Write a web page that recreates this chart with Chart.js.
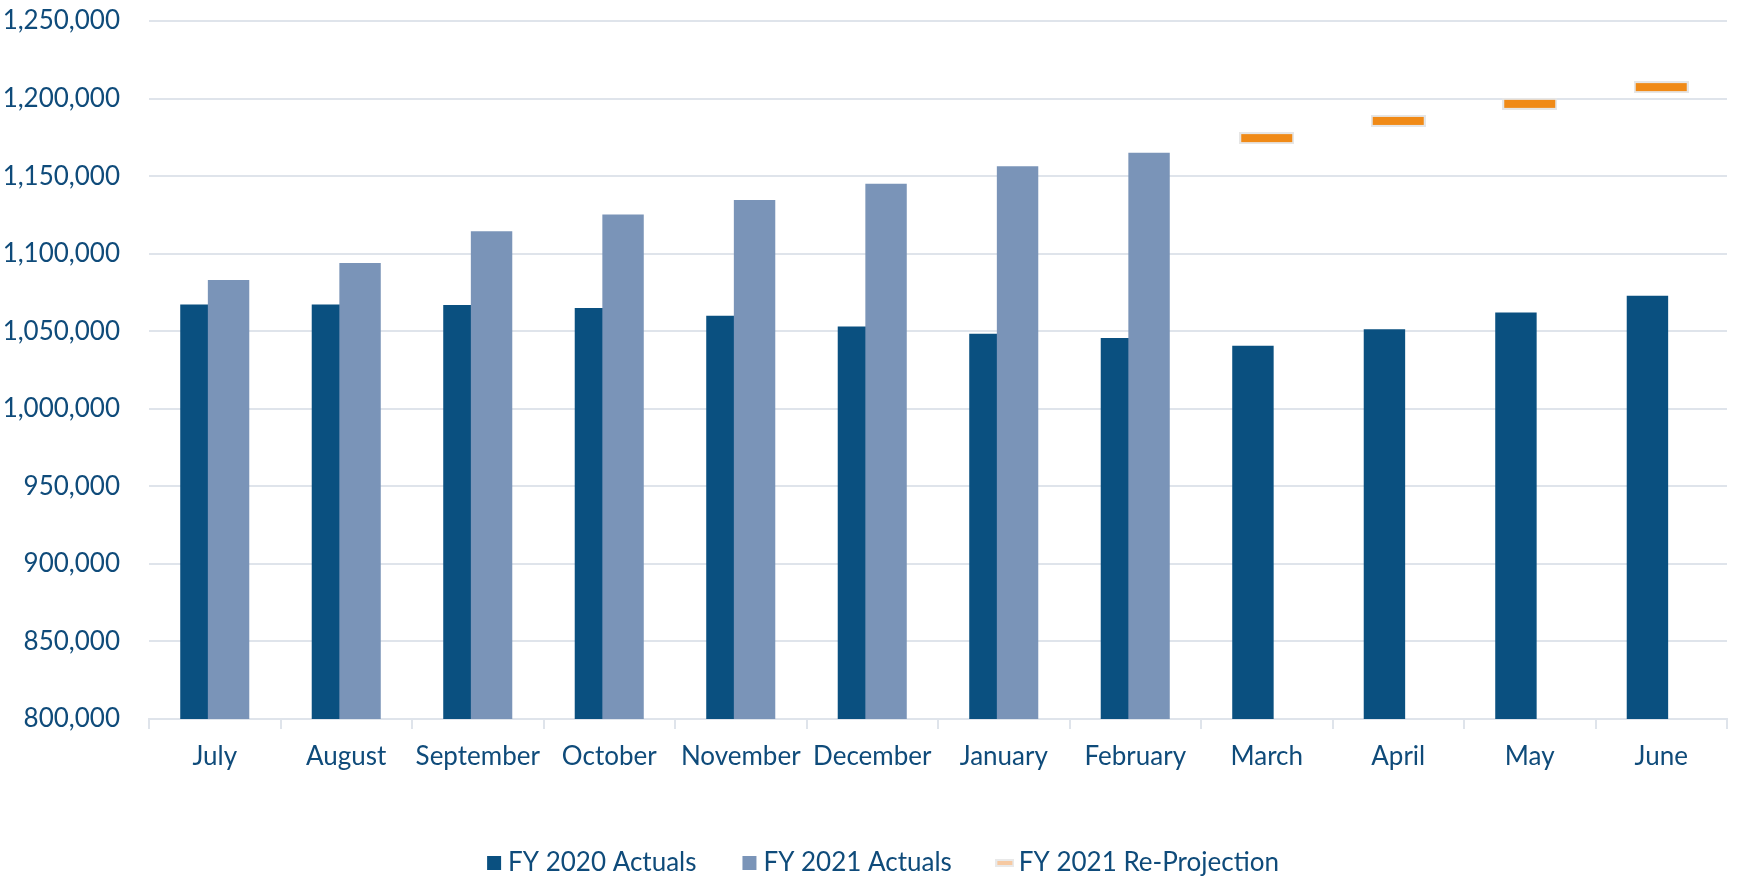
<!DOCTYPE html>
<html lang="en">
<head>
<meta charset="UTF-8">
<title>Monthly Totals: FY 2020 vs FY 2021</title>
<script src="https://cdn.jsdelivr.net/npm/chart.js"></script>
<style>
  html, body { margin: 0; padding: 0; background: #ffffff; }
  canvas { display: block; }
</style>
</head>
<body>
<canvas id="monthlyChart" width="1748" height="879"></canvas>
<script>
// Months of the fiscal year (July - June)
const months = ['July', 'August', 'September', 'October', 'November', 'December',
                'January', 'February', 'March', 'April', 'May', 'June'];

const fy2020Actuals = [1067300, 1067300, 1066900, 1064900, 1060000, 1053000,
                       1048300, 1045700, 1040600, 1051300, 1062000, 1072800];

const fy2021Actuals = [1083100, 1094000, 1114400, 1125300, 1134600, 1145100,
                       1156400, 1165100, null, null, null, null];

const fy2021Reprojection = [null, null, null, null, null, null,
                            null, null, 1174500, 1185600, 1196600, 1207400];

const yMin = 800000;
const yMax = 1250000;
const yStep = 50000;

const textColor = '#0F4B7A';
const gridColor = '#DFE4EB';

Chart.defaults.font.family = 'Lato, "Open Sans", sans-serif';
Chart.defaults.font.size = 26;
Chart.defaults.color = textColor;

// flat orange dash with a soft grey rim, used as the re-projection marker
function makeDash(w, h, inset, rim, fill) {
  const c = document.createElement('canvas');
  c.width = w;
  c.height = h;
  const g = c.getContext('2d');
  g.fillStyle = rim;
  g.fillRect(0, 0, w, h);
  g.fillStyle = fill;
  g.fillRect(inset, inset, w - inset * 2, h - inset * 2);
  return c;
}

const projectionMark = makeDash(55, 12, 2, '#E6E6E6', '#F08A17');
const legendDash = makeDash(19, 8, 2, '#E9E9E9', '#F6C9A2');

// FY 2020 bars go down first so the FY 2021 bars overlap them
const fy2020Underneath = {
  id: 'fy2020Underneath',
  beforeDatasetsDraw(chart) {
    const { ctx, chartArea: a } = chart;
    ctx.save();
    ctx.beginPath();
    ctx.rect(a.left, a.top, a.right - a.left, a.bottom - a.top);
    ctx.clip();
    chart.getDatasetMeta(0).controller.draw();
    ctx.restore();
  },
  beforeDatasetDraw(chart, args) {
    if (args.index === 0) return false;
  }
};

// nudge the legend row a little to the right of the canvas centre
const legendNudge = {
  id: 'legendNudge',
  afterLayout(chart) {
    chart.legend.left += 26;
  }
};

new Chart(document.getElementById('monthlyChart'), {
  type: 'bar',
  data: {
    labels: months,
    datasets: [
      {
        label: 'FY 2020 Actuals',
        data: fy2020Actuals,
        backgroundColor: '#0A5080',
        borderWidth: 0,
        pointStyle: 'rect',
        categoryPercentage: 0.42,
        barPercentage: 1.5
      },
      {
        label: 'FY 2021 Actuals',
        data: fy2021Actuals,
        backgroundColor: '#7A94B8',
        borderWidth: 0,
        pointStyle: 'rect',
        categoryPercentage: 0.42,
        barPercentage: 1.5
      },
      {
        type: 'line',
        label: 'FY 2021 Re-Projection',
        data: fy2021Reprojection,
        showLine: false,
        pointStyle: projectionMark,
        pointRadius: 20,
        backgroundColor: '#F08A17',
        borderColor: '#F08A17'
      }
    ]
  },
  options: {
    responsive: false,
    animation: false,
    layout: {
      padding: { top: 15, left: 0, right: 2, bottom: 0 }
    },
    scales: {
      x: {
        grid: {
          offset: true,
          drawOnChartArea: false,
          drawTicks: true,
          tickLength: 10,
          color: gridColor,
          lineWidth: 2
        },
        border: { display: true, color: gridColor, width: 2 },
        ticks: { padding: 12, color: textColor },
        afterFit(axis) { axis.height = 79; }
      },
      y: {
        min: yMin,
        max: yMax,
        grid: { color: gridColor, lineWidth: 2, drawTicks: false },
        border: { display: false },
        ticks: {
          stepSize: yStep,
          padding: 29,
          color: textColor,
          callback: (v) => v.toLocaleString('en-US')
        },
        afterFit(axis) {
          axis.width = 149;
          axis.paddingTop = 0;
          axis.paddingBottom = 0;
        }
      }
    },
    plugins: {
      legend: {
        position: 'bottom',
        maxHeight: 81,
        labels: {
          usePointStyle: true,
          boxWidth: 2,
          boxHeight: 14,
          padding: 52,
          color: textColor,
          generateLabels(chart) {
            const items = Chart.defaults.plugins.legend.labels.generateLabels(chart);
            items[2].pointStyle = legendDash;
            return items;
          }
        }
      },
      tooltip: { enabled: true }
    }
  },
  plugins: [fy2020Underneath, legendNudge]
});
</script>
</body>
</html>
